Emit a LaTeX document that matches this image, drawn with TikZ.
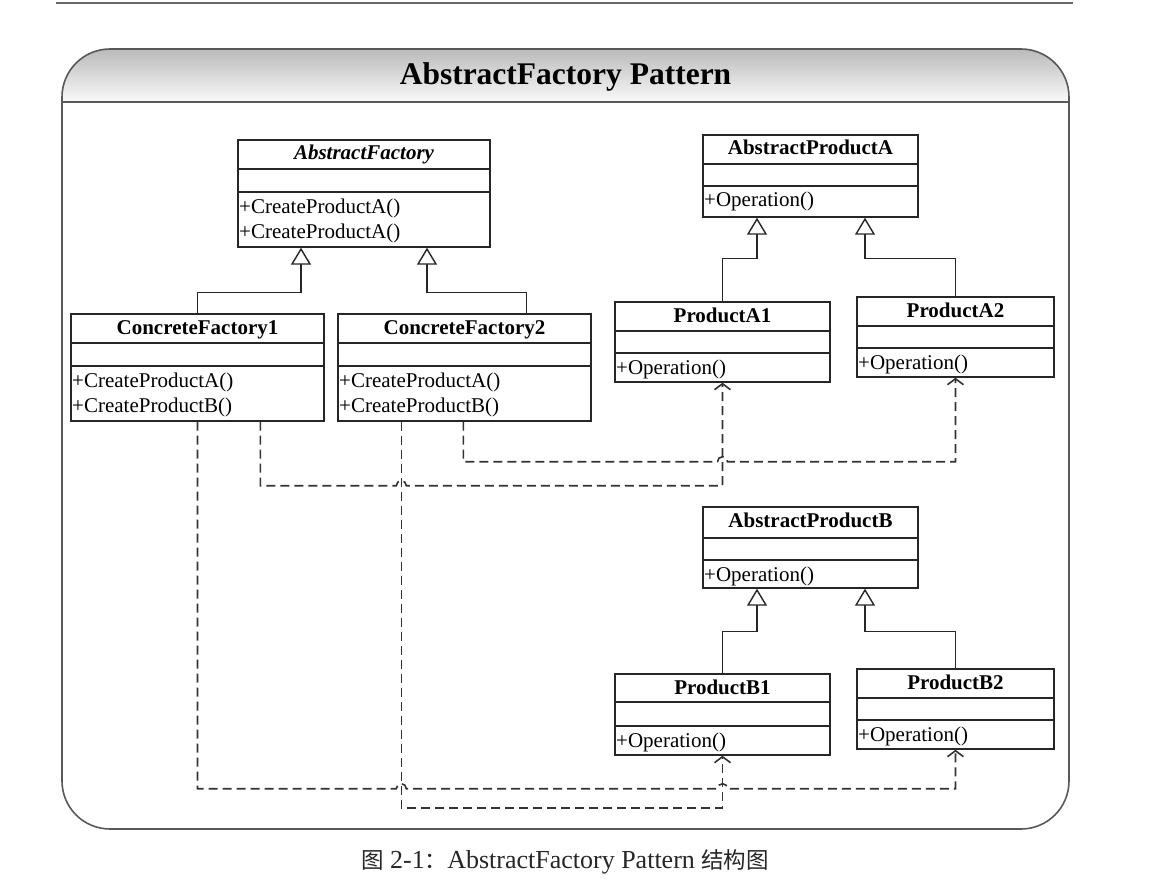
\documentclass[tikz,border=0pt]{standalone}
\usepackage{fontspec}
\setmainfont{Liberation Serif}
\newfontfamily\cjk{Noto Sans CJK SC}
\usetikzlibrary{arrows.meta,calc,fit}

\tikzset{
  boxline/.style={draw=black!85, line width=1.4pt},
  classbox/.style={draw=black!85, line width=1.4pt, inner sep=0pt},
  titletext/.style={font=\fontsize{21}{25}\selectfont\bfseries, inner sep=0pt, anchor=base},
  optext/.style={font=\fontsize{21}{25}\selectfont, inner sep=0pt, anchor=base west},
  inherit/.style={draw=black!85, line width=1.4pt, -{Triangle[length=17pt, width=20pt, fill=white]}},
  depend/.style={draw=black!80, line width=1.6pt, dash pattern=on 9pt off 5pt, -{Straight Barb[length=6pt, width=16pt]}},
  framebox/.style={draw=black!65, line width=1.6pt, inner sep=0pt, rounded corners=48pt},
}

% #1 name, #2 left, #3 top, #4 right, #5 sep1, #6 sep2, #7 bottom, #8 title, #9 ops
\newcommand\umlbox[9]{%
  \node[classbox, fit={(#2,#3) (#4,#7)}] (#1) {};
  \draw[boxline] (#2,#5) -- (#4,#5);
  \draw[boxline] (#2,#6) -- (#4,#6);
  \node[titletext] (#1-t) at ({(#2+#4)/2},#3+20) {#8};
  \foreach \op [count=\i] in {#9} {
    \node[optext] (#1-o\i) at (#2+1,#6+21+25*\i-25) {\op};
  }%
}

\begin{document}
\begin{tikzpicture}[x=1pt,y=-1pt]
\useasboundingbox (0,0) rectangle (1152,888);

% top rule
\draw[line width=2pt, black!60] (56,3) -- (1073,3);

% frame with shaded header
\begin{scope}
  \clip[rounded corners=48pt] (62,49) rectangle (1069,829);
  \shade[top color=black!27, bottom color=black!2] (62,49) rectangle (1069,102);
\end{scope}
\node[framebox, fit={(62,49) (1069,829)}] (frame) {};
\draw[draw=black!65, line width=1.6pt] (frame.west |- 0,102) -- (frame.east |- 0,102);
\node[font=\fontsize{31.5}{36}\selectfont\bfseries, anchor=base, inner sep=0pt] (title) at (565.5,85) {AbstractFactory Pattern};

% classes
\umlbox{af}{238}{140}{490}{169}{192}{247}{\itshape AbstractFactory}{+CreateProductA(),+CreateProductA()}
\umlbox{cf1}{71}{314}{324}{343}{366}{421}{ConcreteFactory1}{+CreateProductA(),+CreateProductB()}
\umlbox{cf2}{338}{314}{591}{343}{366}{421}{ConcreteFactory2}{+CreateProductA(),+CreateProductB()}
\umlbox{apa}{703}{135}{918}{164}{186}{217}{AbstractProductA}{+Operation()}
\umlbox{pa1}{615}{302}{830}{331}{353}{382}{ProductA1}{+Operation()}
\umlbox{pa2}{857}{297}{1054}{326}{348}{377}{ProductA2}{+Operation()}
\umlbox{apb}{703}{507}{918}{538}{560}{588}{AbstractProductB}{+Operation()}
\umlbox{pb1}{615}{674}{830}{702}{726}{755}{ProductB1}{+Operation()}
\umlbox{pb2}{857}{669}{1054}{698}{720}{749}{ProductB2}{+Operation()}

% generalizations
\draw[inherit] (cf1.north) |- ($(af.south)+(-63,45)$) -- ($(af.south)+(-63,0)$);
\draw[inherit] ($(cf2.north west)+(189,0)$) |- ($(af.south)+(63,45)$) -- ($(af.south)+(63,0)$);
\draw[inherit] (pa1.north) |- ($(apa.south)+(-53.5,41)$) -- ($(apa.south)+(-53.5,0)$);
\draw[inherit] (pa2.north) |- ($(apa.south)+(54.5,41)$) -- ($(apa.south)+(54.5,0)$);
\draw[inherit] (pb1.north) |- ($(apb.south)+(-53.5,43)$) -- ($(apb.south)+(-53.5,0)$);
\draw[inherit] (pb2.north) |- ($(apb.south)+(54.5,43)$) -- ($(apb.south)+(54.5,0)$);

% dependencies
\draw[depend] ($(cf1.south west)+(190,0)$) |- ($(cf2.south west)+(59,64)$)
  arc[start angle=180, end angle=0, radius=5pt] -| (pa1.south);
\draw[depend] ($(cf2.south west)+(126,0)$) |- ($(pa1.south)+(-5,79)$)
  arc[start angle=180, end angle=0, radius=5pt] -| (pa2.south);
\draw[depend] (cf1.south) |- ($(cf2.south west)+(59,367)$)
  arc[start angle=180, end angle=0, radius=5pt] -- ($(pb1.south)+(-5,33)$)
  arc[start angle=180, end angle=0, radius=5pt] -| (pb2.south);
\draw[depend] ($(cf2.south west)+(64,0)$) |- ($(pb1.south)+(0,52)$) -- (pb1.south);

% caption
\node[anchor=base, inner sep=0pt, text=black!85, font=\fontsize{26}{30}\selectfont] (caption) at (565,868)
  {{\cjk\fontsize{22.5}{26}\selectfont 图} 2-1{\cjk\fontsize{22.5}{26}\selectfont ：}AbstractFactory Pattern {\cjk\fontsize{22.5}{26}\selectfont 结构图}};
\end{tikzpicture}
\end{document}
